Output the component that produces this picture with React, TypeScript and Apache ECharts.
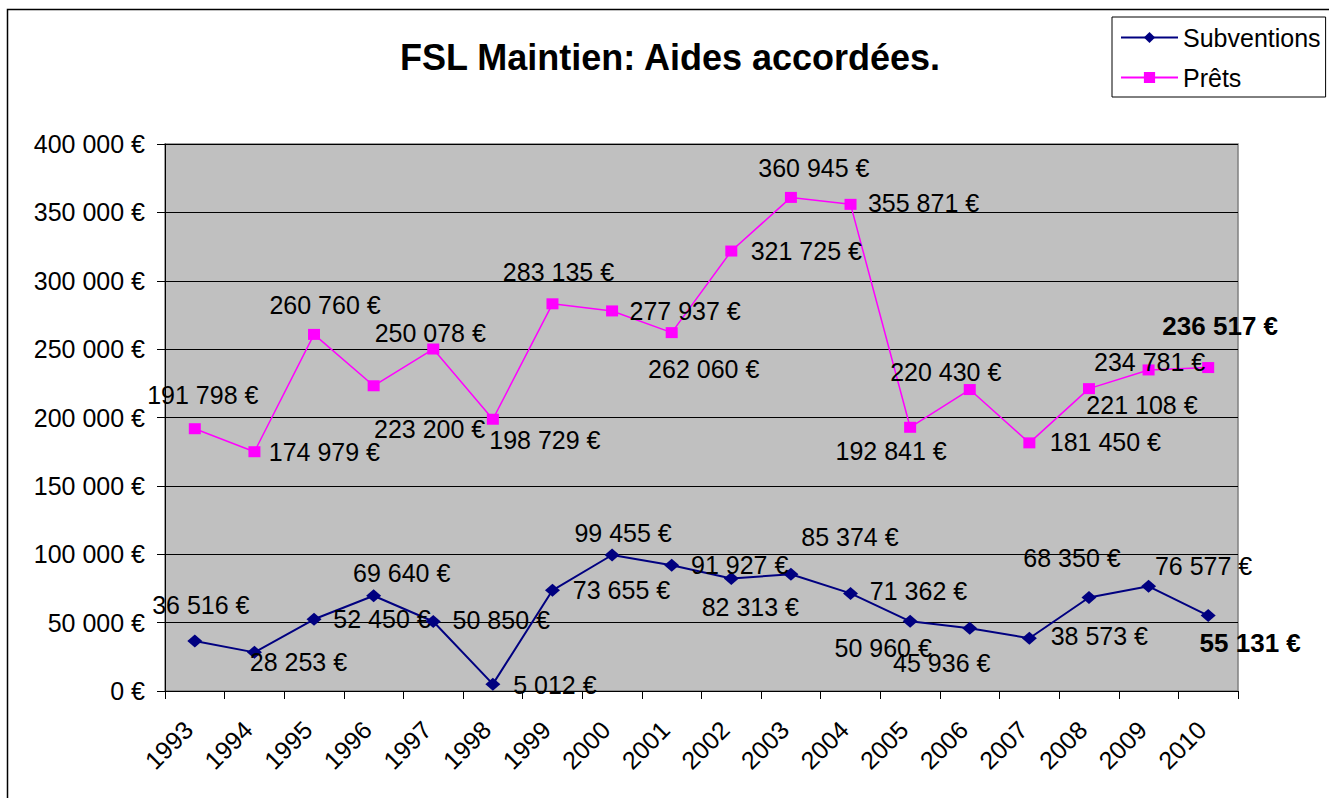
import React, { useEffect, useRef } from "react";
import * as echarts from "echarts";

const years = ["1993","1994","1995","1996","1997","1998","1999","2000","2001","2002","2003","2004","2005","2006","2007","2008","2009","2010"];
const subventions = [36516, 28253, 52450, 69640, 50850, 5012, 73655, 99455, 91927, 82313, 85374, 71362, 50960, 45936, 38573, 68350, 76577, 55131];
const prets = [191798, 174979, 260760, 223200, 250078, 198729, 283135, 277937, 262060, 321725, 360945, 355871, 192841, 220430, 181450, 221108, 234781, 236517];

// label placement offsets (px, relative to each point)
const subLabelOffsets: number[][] = [[6,-36],[44,10],[68,0],[28,-23],[68,-1],[62,1],[69,0],[11,-22],[68,0],[19,29],[59,-37],[68,-2],[-27,27],[-28,35],[70,-2],[-17,-40],[55,-20],[42,27]];
const pretLabelOffsets: number[][] = [[8,-34],[70,0],[11,-29],[56,43],[-3,-16],[52,21],[6,-32],[73,0],[32,36],[75,0],[23,-29],[73,-1],[-19,24],[-24,-18],[76,-1],[53,16],[1,-8],[12,-42]];

const FONT = "'Liberation Sans', Arial, sans-serif";

function fmt(v: number): string {
  const s = Math.round(v).toString().replace(/\B(?=(\d{3})+(?!\d))/g, " ");
  return s + " €";
}

export default function App() {
  const ref = useRef<HTMLDivElement>(null);
  useEffect(() => {
    if (!ref.current) return;
    const chart = echarts.init(ref.current, undefined, { renderer: "svg" });
    const mk = (vals: number[], offs: number[][]) =>
      vals.map((v, i) => ({
        value: v,
        label: {
          offset: offs[i],
          fontWeight: i === vals.length - 1 ? "bold" : "normal",
          fontSize: i === vals.length - 1 ? 26 : 25,
        },
      }));
    chart.setOption({
      animation: false,
      backgroundColor: "#ffffff",
      textStyle: { fontFamily: FONT },
      graphic: [
        {
          type: "rect",
          shape: { x: 7.5, y: 9.5, width: 1400, height: 900 },
          style: { fill: "none", stroke: "#000", lineWidth: 1.5 },
          silent: true,
        },
        {
          type: "text",
          x: 670,
          y: 57,
          style: {
            text: "FSL Maintien: Aides accordées.",
            font: "bold 36px 'Liberation Sans', Arial, sans-serif",
            fill: "#000",
            textAlign: "center",
            textVerticalAlign: "middle",
          },
        },
      ],
      legend: {
        orient: "vertical",
        left: 1112,
        top: 17,
        padding: [8, 5, 7, 8],
        itemWidth: 57,
        itemHeight: 14,
        itemGap: 15,
        itemTextGap: 6,
        borderColor: "#000",
        borderWidth: 1,
        backgroundColor: "#fff",
        textStyle: { fontSize: 25, color: "#000", fontFamily: FONT, lineHeight: 25 },
        data: ["Subventions", "Prêts"],
      },
      grid: {
        left: 165,
        top: 144,
        right: 91,
        bottom: 107,
        show: true,
        backgroundColor: "#C0C0C0",
        borderColor: "#808080",
        borderWidth: 1.5,
      },
      xAxis: {
        type: "category",
        data: years,
        boundaryGap: true,
        axisLine: { show: true, lineStyle: { color: "#000", width: 1 } },
        axisTick: { show: true, length: 8, alignWithLabel: false, interval: 0, lineStyle: { color: "#000" } },
        axisLabel: { rotate: 45, interval: 0, margin: 28, padding: [0, 9, 0, 0], fontSize: 25, color: "#000", fontFamily: FONT },
        splitLine: { show: false },
      },
      yAxis: {
        type: "value",
        min: 0,
        max: 400000,
        interval: 50000,
        axisLine: { show: true, lineStyle: { color: "#000", width: 1 } },
        axisTick: { show: true, length: 8, lineStyle: { color: "#000" } },
        axisLabel: { fontSize: 25, color: "#000", margin: 20, fontFamily: FONT, formatter: (v: number) => fmt(v) },
        splitLine: { show: true, lineStyle: { color: "#000", width: 1 } },
      },
      series: [
        {
          name: "Subventions",
          type: "line",
          data: mk(subventions, subLabelOffsets),
          symbol: "diamond",
          symbolSize: [15, 13],
          itemStyle: { color: "#000080" },
          lineStyle: { color: "#000080", width: 2 },
          label: {
            show: true,
            position: "inside",
            align: "center",
            verticalAlign: "middle",
            fontSize: 25,
            color: "#000",
            fontFamily: FONT,
            formatter: (p: any) => fmt(p.value),
          },
          z: 3,
        },
        {
          name: "Prêts",
          type: "line",
          data: mk(prets, pretLabelOffsets),
          symbol: "rect",
          symbolSize: [12, 11],
          itemStyle: { color: "#FF00FF" },
          lineStyle: { color: "#FF00FF", width: 1.5 },
          label: {
            show: true,
            position: "inside",
            align: "center",
            verticalAlign: "middle",
            fontSize: 25,
            color: "#000",
            fontFamily: FONT,
            formatter: (p: any) => fmt(p.value),
          },
          z: 3,
        },
      ],
    });
    return () => chart.dispose();
  }, []);
  return <div ref={ref} style={{ position: "fixed", left: 0, top: 0, width: 1329, height: 798 }} />;
}
